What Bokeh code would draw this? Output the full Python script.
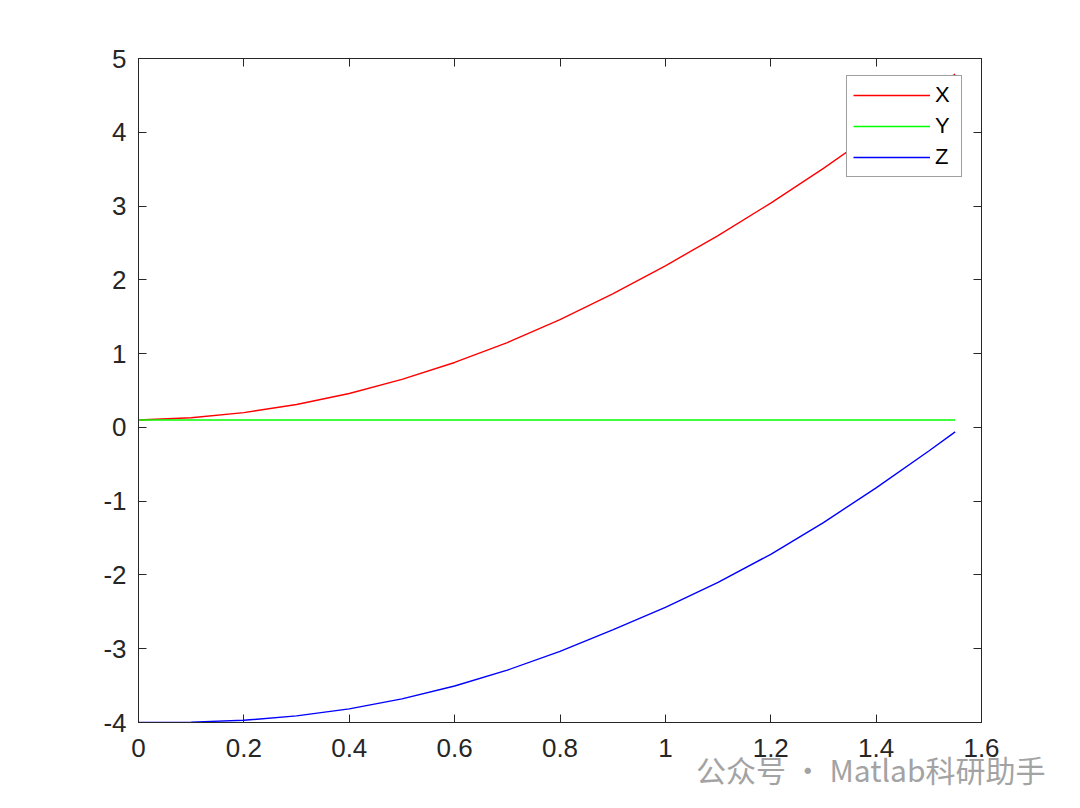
from bokeh.plotting import figure
from bokeh.models import (Range1d, LinearAxis, FixedTicker, CustomJSTickFormatter, Title)
from bokeh.embed import file_html
from bokeh.resources import INLINE

# ---- data ----
t_vals = [0.0, 0.1, 0.2, 0.3, 0.4, 0.5, 0.6, 0.7, 0.8, 0.9, 1.0, 1.1, 1.2, 1.3, 1.4, 1.5, 1.55]
x_vals = [0.10, 0.13, 0.20, 0.31, 0.46, 0.65, 0.88, 1.15, 1.46, 1.81, 2.19, 2.60, 3.04, 3.51, 4.01, 4.54, 4.79]
y_vals = [0.10] * len(t_vals)
z_vals = [-4.00, -3.995, -3.97, -3.91, -3.815, -3.68, -3.505, -3.29, -3.035, -2.745, -2.44, -2.10, -1.72,
          -1.29, -0.82, -0.32, -0.06]

x_ticks = [0, 0.2, 0.4, 0.6, 0.8, 1.0, 1.2, 1.4, 1.6]
x_tick_labels = ["0", "0.2", "0.4", "0.6", "0.8", "1", "1.2", "1.4", "1.6"]
y_ticks = [-4, -3, -2, -1, 0, 1, 2, 3, 4, 5]
y_tick_labels = ["-4", "-3", "-2", "-1", "0", "1", "2", "3", "4", "5"]

series_names = ["X", "Y", "Z"]
series_colors = ["#ff0000", "#00ff00", "#0000ff"]
watermark = "公众号 · Matlab科研助手"

AX = "#262626"
FONT = "Liberation Sans"

p = figure(width=1072, height=795, output_backend="svg", toolbar_location=None,
           x_range=Range1d(0, 1.6), y_range=Range1d(-4, 5),
           min_border_left=138, min_border_right=91, min_border_top=58, min_border_bottom=73,
           x_axis_location=None, y_axis_location=None)
p.grid.visible = False
p.background_fill_color = "white"
p.border_fill_color = "white"
p.outline_line_color = AX
p.outline_line_width = 1

def make_axis(ticks, labels, show_labels):
    ax = LinearAxis(ticker=FixedTicker(ticks=ticks))
    if show_labels:
        ax.major_label_overrides = {float(k): v for k, v in zip(ticks, labels)}
    else:
        ax.formatter = CustomJSTickFormatter(code="return '';")
    ax.major_tick_in = 8
    ax.major_tick_out = 0
    ax.minor_tick_line_color = None
    ax.axis_line_color = AX
    ax.major_tick_line_color = AX
    ax.major_label_text_color = AX
    ax.major_label_text_font = FONT
    ax.major_label_text_font_size = "26px"
    return ax

xb = make_axis(x_ticks, x_tick_labels, True)
xb.major_label_standoff = 16
yl = make_axis(y_ticks, y_tick_labels, True)
yl.major_label_standoff = 12
xt = make_axis(x_ticks, x_tick_labels, False)
yr = make_axis(y_ticks, y_tick_labels, False)
p.add_layout(xb, "below")
p.add_layout(yl, "left")
p.add_layout(xt, "above")
p.add_layout(yr, "right")

for vals, c, n in zip([x_vals, y_vals, z_vals], series_colors, series_names):
    p.line(t_vals, vals, line_color=c, line_width=1.4, legend_label=n)

lg = p.legend[0]
lg.location = (708, 545)
lg.orientation = "vertical"
lg.glyph_width = 77
lg.glyph_height = 20
lg.label_height = 20
lg.label_standoff = 5
lg.spacing = 5
lg.padding = 6
lg.margin = 0
lg.label_text_font = FONT
lg.label_text_font_size = "22px"
lg.label_text_color = "black"
lg.border_line_color = "#404040"
lg.border_line_width = 1
lg.background_fill_color = "white"
lg.background_fill_alpha = 1

# watermark below the axis
wm = Title(text=watermark, align="right", vertical_align="bottom",
           text_font="Noto Sans CJK SC", text_font_size="30px", text_font_style="normal",
           text_color="#a3a3a3", standoff=-30, offset=-64)
p.add_layout(wm, "below")

open("out.html", "w").write(file_html(p, INLINE))
